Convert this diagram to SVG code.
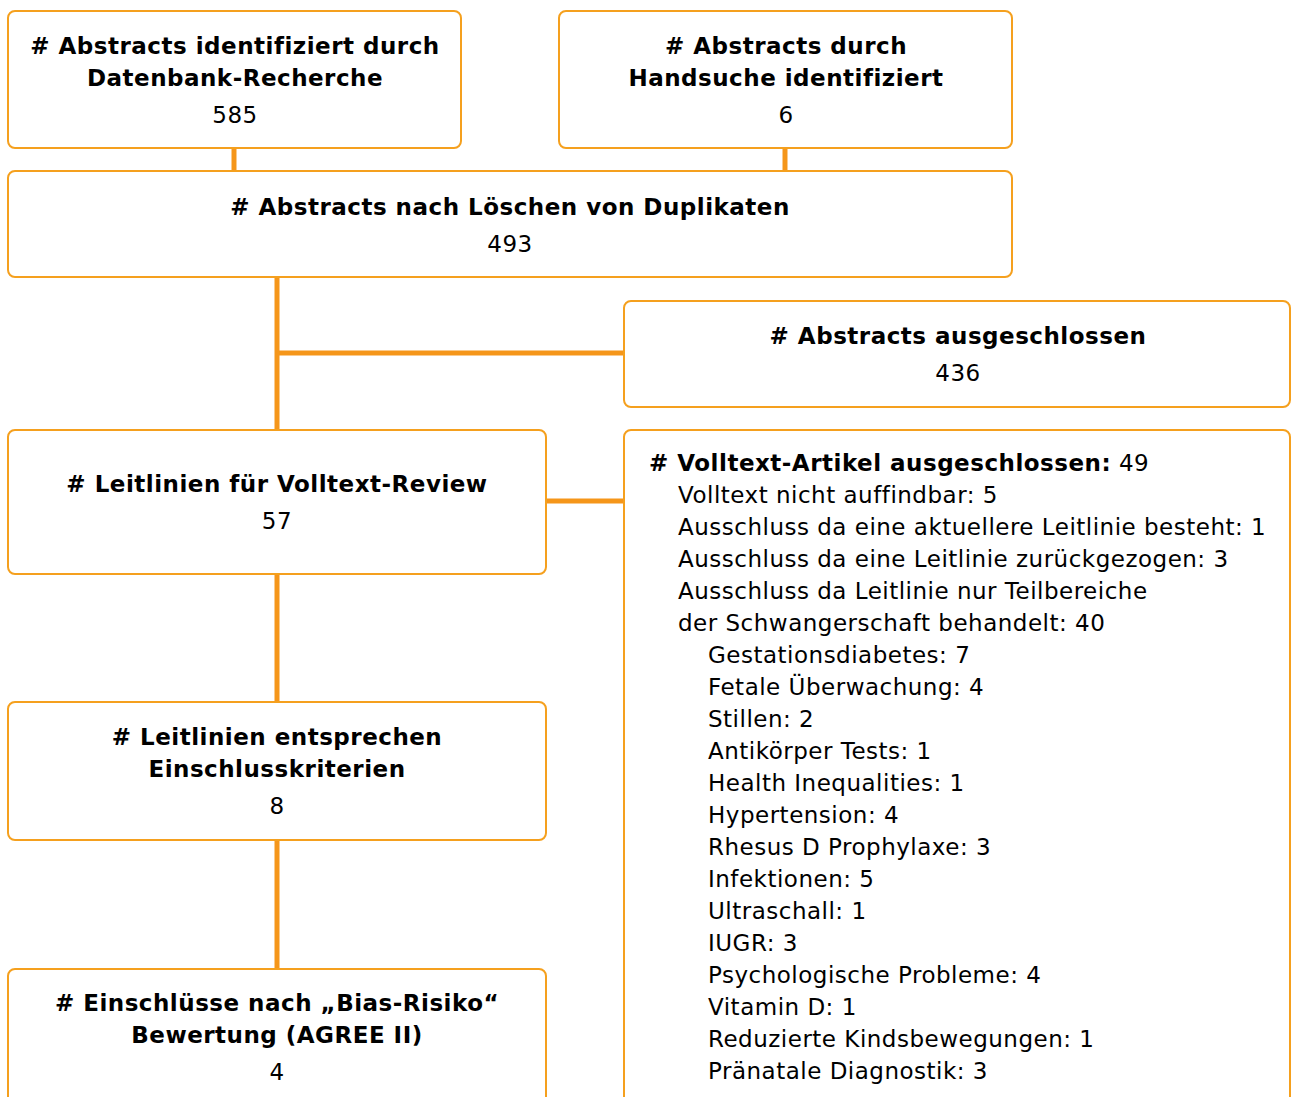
<svg xmlns="http://www.w3.org/2000/svg" width="1291" height="1097" viewBox="0 0 1291 1097">
<style>
.box{fill:#fff;stroke:#F5A01E;stroke-width:2}
.conn{stroke:#F5961A;stroke-width:5;fill:none}
text{font-family:"DejaVu Sans",Verdana,sans-serif;font-size:23px;letter-spacing:0.5px;fill:#000}
.b{font-weight:bold}
.c{text-anchor:middle}
</style>
<rect width="1291" height="1097" fill="#fff"/>
<g id="connectors">
<line class="conn" x1="234" y1="148" x2="234" y2="172"/>
<line class="conn" x1="785" y1="148" x2="785" y2="172"/>
<line class="conn" x1="277" y1="277" x2="277" y2="431"/>
<line class="conn" x1="277" y1="353" x2="625" y2="353"/>
<line class="conn" x1="546" y1="501" x2="625" y2="501"/>
<line class="conn" x1="277" y1="574" x2="277" y2="703"/>
<line class="conn" x1="277" y1="840" x2="277" y2="970"/>
</g>
<g id="n1">
<rect class="box" x="8" y="11" width="453" height="137" rx="7"/>
<text class="c b" x="235" y="54">&#35; Abstracts identifiziert durch</text>
<text class="c b" x="235" y="86">Datenbank-Recherche</text>
<text class="c" x="235" y="123">585</text>
</g>
<g id="n2">
<rect class="box" x="559" y="11" width="453" height="137" rx="7"/>
<text class="c b" x="786" y="54">&#35; Abstracts durch</text>
<text class="c b" x="786" y="86">Handsuche identifiziert</text>
<text class="c" x="786" y="123">6</text>
</g>
<g id="n3">
<rect class="box" x="8" y="171" width="1004" height="106" rx="7"/>
<text class="c b" x="510" y="215">&#35; Abstracts nach Löschen von Duplikaten</text>
<text class="c" x="510" y="252">493</text>
</g>
<g id="n4">
<rect class="box" x="624" y="301" width="666" height="106" rx="7"/>
<text class="c b" x="958" y="344">&#35; Abstracts ausgeschlossen</text>
<text class="c" x="958" y="381">436</text>
</g>
<g id="n5">
<rect class="box" x="8" y="430" width="538" height="144" rx="7"/>
<text class="c b" x="277" y="492">&#35; Leitlinien für Volltext-Review</text>
<text class="c" x="277" y="529">57</text>
</g>
<g id="n6">
<rect class="box" x="624" y="430" width="666" height="680" rx="7"/>
<text x="649" y="471"><tspan class="b">&#35; Volltext-Artikel ausgeschlossen:</tspan> 49</text>
<text x="678" y="503">Volltext nicht auffindbar: 5</text>
<text x="678" y="535">Ausschluss da eine aktuellere Leitlinie besteht: 1</text>
<text x="678" y="567">Ausschluss da eine Leitlinie zurückgezogen: 3</text>
<text x="678" y="599">Ausschluss da Leitlinie nur Teilbereiche</text>
<text x="678" y="631">der Schwangerschaft behandelt: 40</text>
<text x="708" y="663">Gestationsdiabetes: 7</text>
<text x="708" y="695">Fetale Überwachung: 4</text>
<text x="708" y="727">Stillen: 2</text>
<text x="708" y="759">Antikörper Tests: 1</text>
<text x="708" y="791">Health Inequalities: 1</text>
<text x="708" y="823">Hypertension: 4</text>
<text x="708" y="855">Rhesus D Prophylaxe: 3</text>
<text x="708" y="887">Infektionen: 5</text>
<text x="708" y="919">Ultraschall: 1</text>
<text x="708" y="951">IUGR: 3</text>
<text x="708" y="983">Psychologische Probleme: 4</text>
<text x="708" y="1015">Vitamin D: 1</text>
<text x="708" y="1047">Reduzierte Kindsbewegungen: 1</text>
<text x="708" y="1079">Pränatale Diagnostik: 3</text>
</g>
<g id="n7">
<rect class="box" x="8" y="702" width="538" height="138" rx="7"/>
<text class="c b" x="277" y="745">&#35; Leitlinien entsprechen</text>
<text class="c b" x="277" y="777">Einschlusskriterien</text>
<text class="c" x="277" y="814">8</text>
</g>
<g id="n8">
<rect class="box" x="8" y="969" width="538" height="140" rx="7"/>
<text class="c b" x="277" y="1011">&#35; Einschlüsse nach „Bias-Risiko“</text>
<text class="c b" x="277" y="1043">Bewertung (AGREE II)</text>
<text class="c" x="277" y="1080">4</text>
</g>
</svg>
